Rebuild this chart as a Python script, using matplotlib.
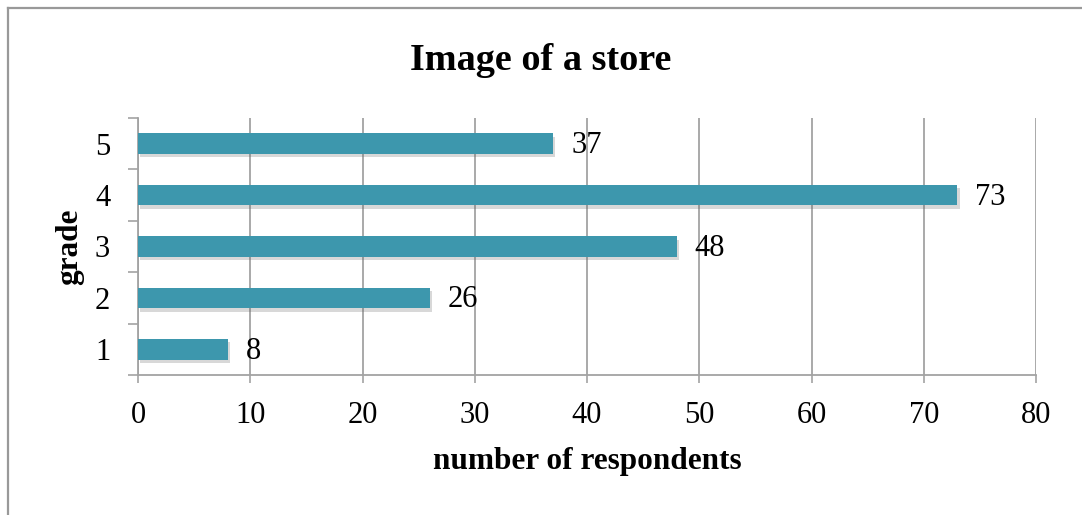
import numpy as np
import matplotlib
matplotlib.use('Agg')
import matplotlib.pyplot as plt
import matplotlib.patheffects as pe
from matplotlib.lines import Line2D

# survey results
grades = [1, 2, 3, 4, 5]
respondents = [8, 26, 48, 73, 37]

bar_color = '#3D97AD'
grid_color = '#A3A3A3'
title_font = {'family': 'Liberation Serif', 'size': 27.5, 'weight': 'bold'}
label_font = {'family': 'Liberation Serif', 'size': 22.5, 'weight': 'bold'}

plt.rcParams['font.family'] = 'Liberation Serif'

fig = plt.figure(figsize=(10.82, 5.15), dpi=100)
ax = fig.add_axes([138 / 1082, 1 - 375 / 515, 898 / 1082, 257 / 515])

# bars with a soft drop shadow
shadow = [pe.SimplePatchShadow(offset=(1.5, -2.5), shadow_rgbFace='#666666', alpha=0.25),
          pe.Normal()]
bars = ax.barh(grades, respondents, height=0.4, color=bar_color, zorder=3)
for b in bars:
    b.set_path_effects(shadow)

# value labels
for g, v in zip(grades, respondents):
    ax.text(v + 1.6, g - 0.04, str(v), va='center', ha='left', fontsize=22, zorder=4)

ax.set_xlim(0, 80)
ax.set_ylim(0.5, 5.5)
ax.set_xticks(np.arange(0, 81, 10))
ax.set_yticks(grades)
ax.set_yticks(np.arange(0.5, 5.6, 1), minor=True)

ax.grid(axis='x', color=grid_color, linewidth=1.3, zorder=0)
ax.tick_params(axis='y', which='major', length=0, pad=20, labelsize=22)
ax.tick_params(axis='y', which='minor', length=7, width=1.2, color=grid_color)
ax.tick_params(axis='x', length=6, width=1.2, color=grid_color, pad=13, labelsize=22)

for side in ['top', 'right']:
    ax.spines[side].set_visible(False)
for side in ['left', 'bottom']:
    ax.spines[side].set_color(grid_color)
    ax.spines[side].set_linewidth(1.3)

ax.set_xlabel('number of respondents', fontdict=label_font, labelpad=12)
ax.set_ylabel('grade', fontdict=label_font, labelpad=8)
fig.text(0.5, 1 - 60 / 515, 'Image of a store', ha='center', va='center', fontdict=title_font)

# outer frame (top and left edges)
x0 = 7.5 / 1082
y0 = 1 - 7.5 / 515
fig.add_artist(Line2D([x0, x0], [0, y0], color='#999999', linewidth=1.6))
fig.add_artist(Line2D([x0, 1], [y0, y0], color='#999999', linewidth=1.6))

fig.savefig('out.png', dpi=100)
